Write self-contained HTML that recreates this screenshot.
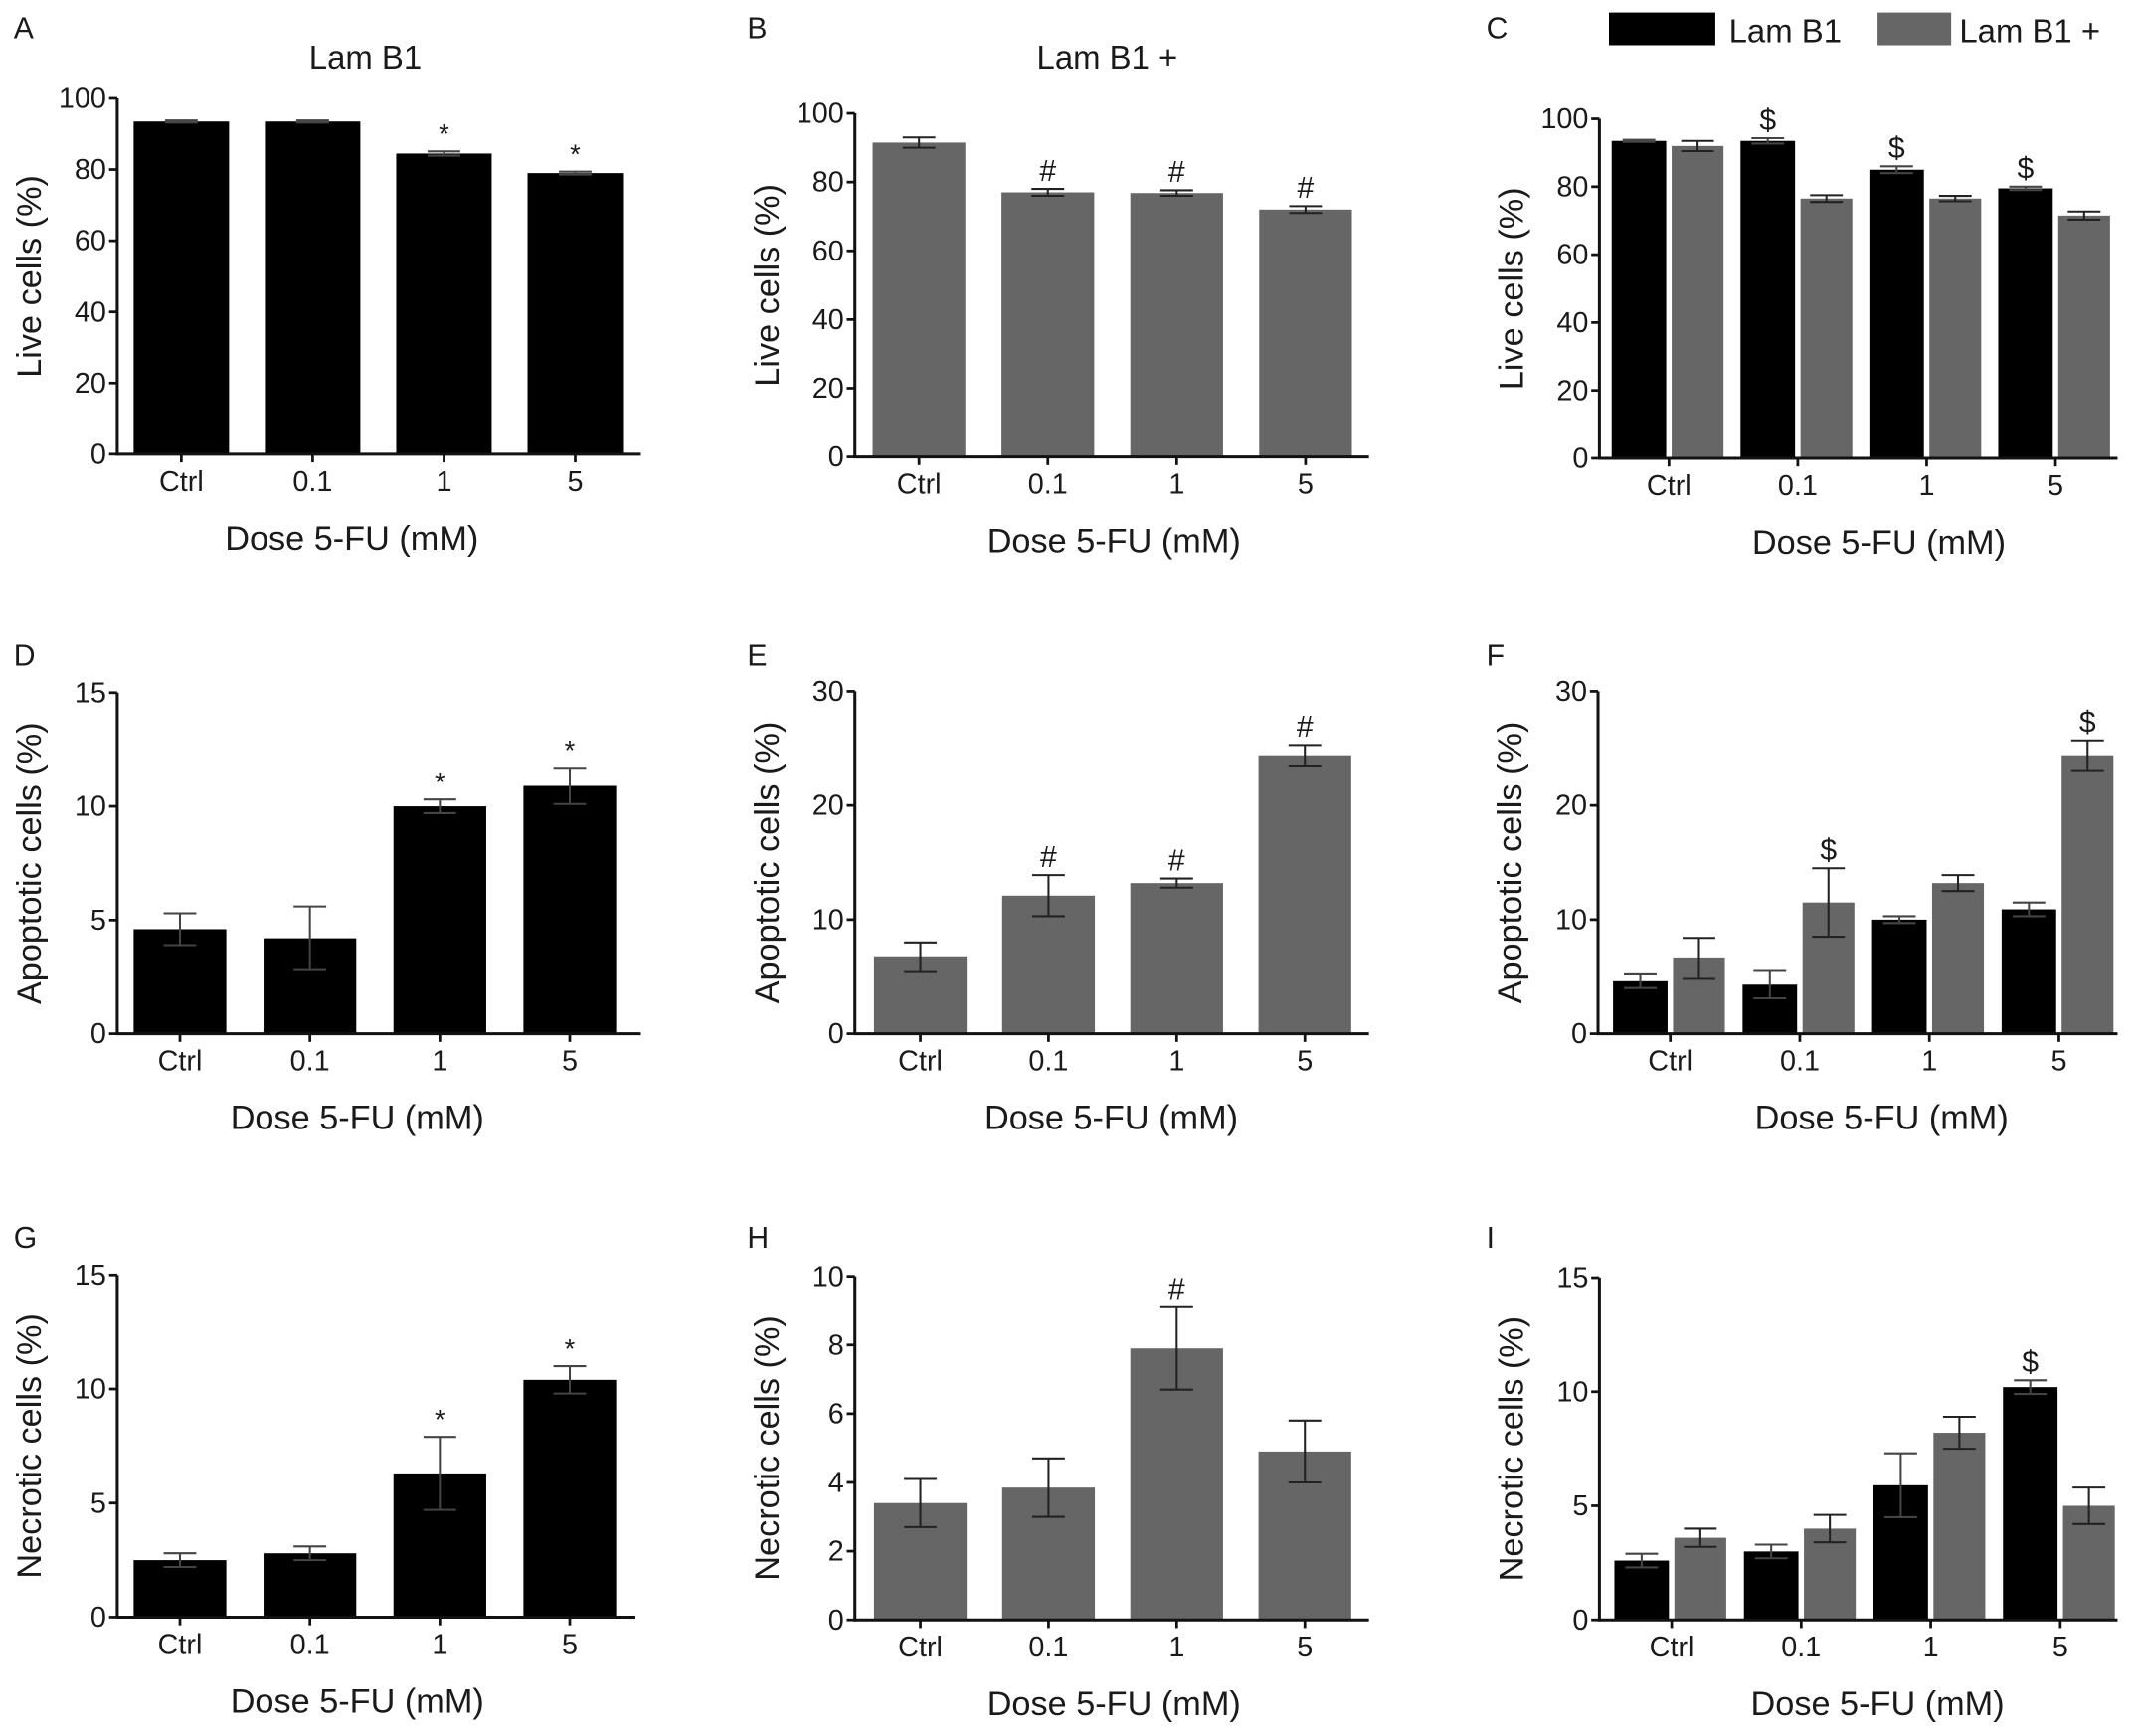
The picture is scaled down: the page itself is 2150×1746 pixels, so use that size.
<!DOCTYPE html>
<html><head><meta charset="utf-8"><style>
html,body{margin:0;padding:0;background:#fff}
svg{display:block}
text{font-family:"Liberation Sans",Arial,sans-serif;fill:#1a1a1a}
</style></head><body>
<svg id="fig" width="2150" height="1746" viewBox="0 0 1568 1273" xmlns="http://www.w3.org/2000/svg"></svg>
<script>
const categories = ["Ctrl","0.1","1","5"];
const aVals=[93.5,93.5,84.5,79], aErr=[0.3,0.3,0.6,0.4];
const bVals=[91.5,77,76.8,72], bErr=[1.5,1,0.8,1];
const cBlack=[93.5,93.5,85,79.5], cBlackErr=[0.3,0.8,1,0.5];
const cGray=[92,76.5,76.5,71.5], cGrayErr=[1.5,1,0.8,1.2];
const dVals=[4.6,4.2,10,10.9], dErr=[0.7,1.4,0.3,0.8];
const eVals=[6.7,12.1,13.2,24.4], eErr=[1.3,1.8,0.4,0.9];
const fBlack=[4.6,4.3,10,10.9], fBlackErr=[0.6,1.2,0.3,0.6];
const fGray=[6.6,11.5,13.2,24.4], fGrayErr=[1.8,3,0.7,1.3];
const gVals=[2.5,2.8,6.3,10.4], gErr=[0.3,0.3,1.6,0.6];
const hVals=[3.4,3.85,7.9,4.9], hErr=[0.7,0.85,1.2,0.9];
const iBlack=[2.6,3,5.9,10.2], iBlackErr=[0.3,0.3,1.4,0.3];
const iGray=[3.6,4,8.2,5], iGrayErr=[0.4,0.6,0.7,0.8];
const ticks100=[0,20,40,60,80,100], ticks15=[0,5,10,15], ticks30=[0,10,20,30], ticks10=[0,2,4,6,8,10];
const NS="http://www.w3.org/2000/svg";
const svg=document.getElementById('fig');
function mk(tag,attrs,parent){const e=document.createElementNS(NS,tag);for(const k in attrs)e.setAttribute(k,attrs[k]);(parent||svg).appendChild(e);return e;}
function txt(s,x,y,size,anchor,parent,name){const t=mk('text',{x:x,y:y,'font-size':size,'text-anchor':anchor||'middle'},parent);t.textContent=s;

return t;}
function panel(p){
  const g=mk('g',{});
  
  
  const y=v=>p.y0-(v/p.max)*(p.y0-p.yTop);
  const xc=i=>p.x1+i*p.step;
  txt(p.letter,p.lx,p.ly,22,'start',g,'panel-label');
  const ya=mk('line',{x1:p.ax,y1:p.yTop,x2:p.ax,y2:p.y0+1,stroke:'#111','stroke-width':2.2},g);
  
  
  p.ticks.forEach(t=>{mk('line',{x1:p.ax-6,y1:y(t),x2:p.ax,y2:y(t),stroke:'#111','stroke-width':2},g);
    txt(String(t),p.ax-8,y(t)+7,21,'end',g,'y-tick-label');});
  const drawBar=(x0,w,v,e,col,ecol,name)=>{
    const r=mk('rect',{x:x0,y:y(v),width:w,height:p.y0-y(v),fill:col},g);
    
    
    const cx=x0+w/2;
    mk('line',{x1:cx,y1:y(v+e),x2:cx,y2:y(v-e),stroke:ecol,'stroke-width':1.5},g);
    mk('line',{x1:cx-12,y1:y(v+e),x2:cx+12,y2:y(v+e),stroke:ecol,'stroke-width':1.5},g);
    mk('line',{x1:cx-12,y1:y(v-e),x2:cx+12,y2:y(v-e),stroke:ecol,'stroke-width':1.5},g);
  };
  categories.forEach((c,i)=>{
    const cx=xc(i);
    if(p.gray2){
      drawBar(cx-42,40,p.vals[i],p.err[i],'#000','#444','bar-lamb1-'+c);
      drawBar(cx+2,38,p.gray2[i],p.gray2Err[i],'#666','#222','bar-lamb1plus-'+c);
      if(p.markB&&p.markB[i]) txt(p.mark,cx-22,y(p.vals[i]+p.err[i])-6,22,'middle',g,'significance-mark');
      if(p.markG&&p.markG[i]) txt(p.mark,cx+21,y(p.gray2[i]+p.gray2Err[i])-6,22,'middle',g,'significance-mark');
    } else {
      drawBar(cx-p.bw/2,p.bw,p.vals[i],p.err[i],p.col,p.col==='#000'?'#444':'#222','bar-'+c);
      if(p.marks[i]) txt(p.mark,cx,y(p.vals[i]+p.err[i])-6,p.mark==='*'?20:22,'middle',g,'significance-mark');
    }
    mk('line',{x1:cx,y1:p.y0,x2:cx,y2:p.y0+6,stroke:'#111','stroke-width':2},g);
    txt(c,cx,p.y0+27,21,'middle',g,'x-tick-label');
  });
  const xa=mk('line',{x1:p.ax-1,y1:p.y0,x2:p.xEnd,y2:p.y0,stroke:'#111','stroke-width':2.2},g);
  
  
  txt('Dose 5-FU (mM)',p.xtx,p.y0+70,25,'middle',g,'x-axis-title');
  const yt=txt(p.ytitle,0,0,25,'middle',g,'y-axis-title');
  yt.setAttribute('transform','translate('+(p.ax-56)+','+((p.yTop+p.y0)/2)+') rotate(-90)');
}
const pa=[
 {letter:'A',lx:10,ly:28,ax:86,yTop:72,y0:333,max:100,ticks:ticks100,x1:133,step:96.3,bw:70,xEnd:470,vals:aVals,err:aErr,col:'#000',marks:[0,0,1,1],mark:'*',xtx:258,ytitle:'Live cells (%)'},
 {letter:'B',lx:548,ly:28,ax:627,yTop:83,y0:335,max:100,ticks:ticks100,x1:674,step:94.5,bw:68,xEnd:1004,vals:bVals,err:bErr,col:'#666',marks:[0,1,1,1],mark:'#',xtx:817,ytitle:'Live cells (%)'},
 {letter:'C',lx:1090,ly:28,ax:1173,yTop:87,y0:336,max:100,ticks:ticks100,x1:1224,step:94.5,xEnd:1553,vals:cBlack,err:cBlackErr,gray2:cGray,gray2Err:cGrayErr,markB:[0,1,1,1],mark:'$',xtx:1378,ytitle:'Live  cells (%)'},
 {letter:'D',lx:10,ly:488,ax:86,yTop:508,y0:758,max:15,ticks:ticks15,x1:132,step:95.3,bw:68,xEnd:470,vals:dVals,err:dErr,col:'#000',marks:[0,0,1,1],mark:'*',xtx:262,ytitle:'Apoptotic cells (%)'},
 {letter:'E',lx:548,ly:488,ax:627,yTop:507,y0:758,max:30,ticks:ticks30,x1:675,step:94,bw:68,xEnd:1004,vals:eVals,err:eErr,col:'#666',marks:[0,1,1,1],mark:'#',xtx:815,ytitle:'Apoptotic cells (%)'},
 {letter:'F',lx:1090,ly:488,ax:1172,yTop:507,y0:758,max:30,ticks:ticks30,x1:1225,step:95,xEnd:1553,vals:fBlack,err:fBlackErr,gray2:fGray,gray2Err:fGrayErr,markG:[0,1,0,1],mark:'$',xtx:1380,ytitle:'Apoptotic cells (%)'},
 {letter:'G',lx:10,ly:915,ax:86,yTop:935,y0:1186,max:15,ticks:ticks15,x1:132,step:95.3,bw:68,xEnd:466,vals:gVals,err:gErr,col:'#000',marks:[0,0,1,1],mark:'*',xtx:262,ytitle:'Necrotic cells (%)'},
 {letter:'H',lx:548,ly:915,ax:627,yTop:936,y0:1188,max:10,ticks:ticks10,x1:675,step:94,bw:68,xEnd:1004,vals:hVals,err:hErr,col:'#666',marks:[0,0,1,0],mark:'#',xtx:817,ytitle:'Necrotic cells (%)'},
 {letter:'I',lx:1090,ly:915,ax:1173,yTop:937,y0:1188,max:15,ticks:ticks15,x1:1226,step:95,xEnd:1553,vals:iBlack,err:iBlackErr,gray2:iGray,gray2Err:iGrayErr,markB:[0,0,0,1],mark:'$',xtx:1377,ytitle:'Necrotic cells (%)'}
];
pa.forEach(panel);
txt('Lam B1',268,50,24,'middle',svg,'title-panel-a');
txt('Lam B1 +',812,50,24,'middle',svg,'title-panel-b');
const leg=mk('g',{});


const l1=mk('rect',{x:1180,y:9,width:78,height:24,fill:'#000'},leg);


txt('Lam B1',1268,31,24,'start',leg,'legend-entry-lamb1');
const l2=mk('rect',{x:1377,y:9,width:54,height:24,fill:'#666'},leg);


txt('Lam B1 +',1437,31,24,'start',leg,'legend-entry-lamb1plus');
</script>
</body></html>
